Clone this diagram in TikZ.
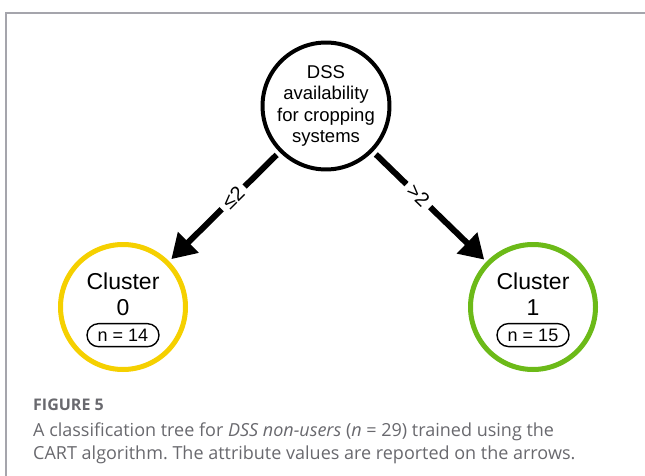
\documentclass[tikz,border=0pt]{standalone}
\usepackage{fontspec}
\setmainfont{Liberation Sans}
\newfontfamily\capfont{Open Sans}
\usetikzlibrary{arrows.meta,positioning,shapes.misc}
\definecolor{clyellow}{RGB}{245,208,0}
\definecolor{clgreen}{RGB}{108,186,24}
\definecolor{framegray}{RGB}{165,165,172}
\definecolor{capgray}{RGB}{105,105,110}
\frenchspacing

\begin{document}
\begin{tikzpicture}[x=1pt,y=-1pt,
  split/.style={circle,draw,line width=4pt,minimum size=120pt,inner sep=0pt,
    align=center,font=\fontsize{18.5}{21.5}\selectfont},
  leaf/.style={circle,line width=5pt,minimum size=125pt,inner sep=0pt},
  leaftext/.style={align=center,font=\fontsize{23}{26}\selectfont},
  count/.style={rounded rectangle,draw,line width=1.4pt,minimum width=74pt,
    minimum height=23pt,inner sep=1pt,font=\fontsize{18}{18}\selectfont},
  branch/.style={line width=6pt,-{Triangle[length=24pt,width=28pt]},
    shorten <=4pt,shorten >=3pt},
  cond/.style={sloped,fill=white,inner sep=5pt,font=\fontsize{20}{20}\selectfont}]
\useasboundingbox (0,0) rectangle (645,476);
\draw[framegray,line width=2pt] (6,476) -- (6,13) -- (645,13);

\node[split] (root) at (326,106) {DSS\\availability\\for cropping\\systems};
\node[leaf,draw=clyellow] (c0) at (123,307) {};
\node[leaf,draw=clgreen] (c1) at (533,307) {};
\node[leaftext] (c0t) at (123,294) {Cluster\\0};
\node[leaftext] (c1t) at (533,294) {Cluster\\1};
\node[count,below=4pt of c0t] (n0) {n = 14};
\node[count,below=4pt of c1t] (n1) {n = 15};

\draw[branch] (root) -- node[cond,pos=0.42] {≤2} (c0);
\draw[branch] (root) -- node[cond,pos=0.4] {>2} (c1);

% caption
\node[anchor=base west,inner sep=0pt,text=capgray,font=\capfont\fontsize{16}{16}\selectfont\bfseries]
  (fig) at (33,410) {FIGURE 5};
\node[anchor=base west,inner sep=0pt,text=capgray,font=\capfont\fontsize{18}{22}\selectfont]
  (cap1) at (33,436) {A classification tree for \textit{DSS non-users} (\textit{n} = 29) trained using the};
\node[anchor=base west,inner sep=0pt,text=capgray,font=\capfont\fontsize{18}{22}\selectfont]
  (cap2) at (33,459) {CART algorithm. The attribute values are reported on the arrows.};
\end{tikzpicture}
\end{document}
